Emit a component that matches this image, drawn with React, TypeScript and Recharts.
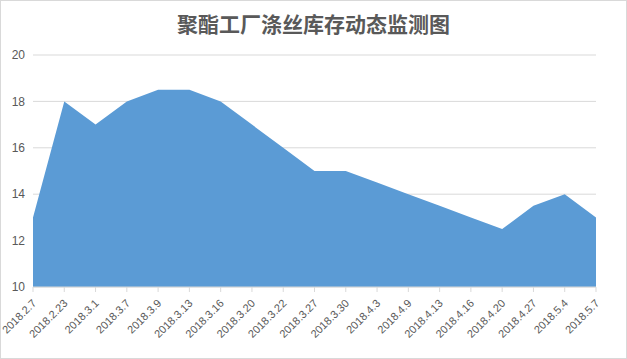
import { Area, AreaChart, CartesianGrid, XAxis, YAxis } from 'recharts';

const dates = [
  '2018.2.7', '2018.2.23', '2018.3.1', '2018.3.7', '2018.3.9', '2018.3.13', '2018.3.16',
  '2018.3.20', '2018.3.22', '2018.3.27', '2018.3.30', '2018.4.3', '2018.4.9', '2018.4.13',
  '2018.4.16', '2018.4.20', '2018.4.27', '2018.5.4', '2018.5.7',
];
const stock = [13, 18, 17, 18, 18.5, 18.5, 18, 17, 16, 15, 15, 14.5, 14, 13.5, 13, 12.5, 13.5, 14, 13];
const yTicks = [10, 12, 14, 16, 18, 20];

const data = dates.map((date, i) => ({ date, stock: stock[i] }));

const labelColor = '#595959';
const fontFamily = '"Liberation Sans", Arial, sans-serif';

function DateTick({ x, y, payload }: any) {
  return (
    <text
      x={0}
      y={0}
      transform={`translate(${x + 4},${y + 10}) rotate(-45)`}
      textAnchor="end"
      fill={labelColor}
      fontSize={11}
      fontFamily={fontFamily}
    >
      {payload.value}
    </text>
  );
}

export default function App() {
  return (
    <div
      style={{
        position: 'absolute',
        left: 0,
        top: 0,
        width: 627,
        height: 359,
        border: '1px solid #d9d9d9',
        boxSizing: 'border-box',
        background: '#fff',
      }}
    >
      <div
        style={{
          position: 'absolute',
          left: 0,
          top: 7,
          width: 625,
          textAlign: 'center',
          fontFamily: '"Noto Sans CJK SC", sans-serif',
          fontWeight: 'bold',
          fontSize: 21,
          color: labelColor,
        }}
      >
        聚酯工厂涤丝库存动态监测图
      </div>
      <AreaChart
        width={625}
        height={357}
        data={data}
        margin={{ top: 54, right: 30, left: 0, bottom: 0 }}
      >
        <CartesianGrid stroke="#d9d9d9" vertical={false} />
        <XAxis
          dataKey="date"
          interval={0}
          height={71}
          tick={<DateTick />}
          tickLine={{ stroke: '#d9d9d9' }}
          tickSize={5}
          axisLine={{ stroke: '#d9d9d9' }}
        />
        <YAxis
          domain={[10, 20]}
          ticks={yTicks}
          width={32}
          axisLine={false}
          tickLine={false}
          tick={{ fill: labelColor, fontSize: 12, fontFamily }}
        />
        <Area
          type="linear"
          dataKey="stock"
          stroke="none"
          fill="#5b9bd5"
          fillOpacity={1}
          isAnimationActive={false}
        />
      </AreaChart>
    </div>
  );
}
